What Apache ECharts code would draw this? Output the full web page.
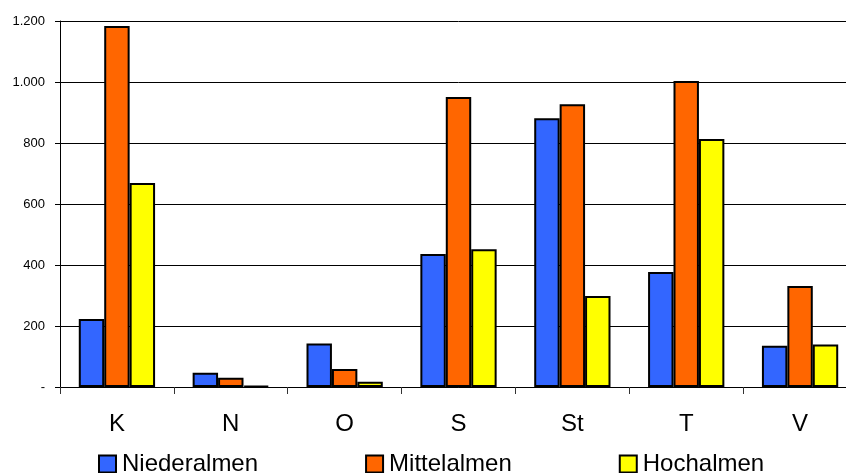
<!DOCTYPE html>
<html><head><meta charset="utf-8">
<script src="https://cdn.jsdelivr.net/npm/echarts@6/dist/echarts.min.js"></script>
<style>html,body{margin:0;padding:0;background:#fff;overflow:hidden;width:846px;height:473px}#c{width:857px;height:473px}</style>
</head><body><div id="c"></div>
<script>
const categories = ['K','N','O','S','St','T','V'];
const niederalmen = [223, 47, 143, 436, 881, 377, 135];
const mittelalmen = [1184, 30, 59, 951, 927, 1003, 331];
const hochalmen = [669, 4, 17, 452, 298, 813, 139];
const seriesNames = ['Niederalmen','Mittelalmen','Hochalmen'];
const colors = ['#3366FF','#FF6600','#FFFF00'];
const yTicks = [0, 200, 400, 600, 800, 1000, 1200];

function fmt(v){
  if (v === 0) return '-';
  return String(v).replace(/\B(?=(\d{3})+(?!\d))/g, '.');
}
const chart = echarts.init(document.getElementById('c'), null, {renderer:'canvas'});
const data = [niederalmen, mittelalmen, hochalmen];
chart.setOption({
  animation:false,
  textStyle:{fontFamily:'Liberation Sans, Arial, sans-serif', color:'#000'},
  grid:{left:60, top:21, right:0, bottom:86, containLabel:false},
  legend:{
    data:seriesNames, left:93, top:447, itemWidth:17, itemHeight:17, itemGap:107,
    icon:'rect',
    textStyle:{fontSize:24, color:'#000', padding:[0,0,0,1], fontFamily:'Liberation Sans, Arial, sans-serif'}
  },
  xAxis:{
    type:'category', data:categories,
    axisLine:{lineStyle:{color:'#000', width:1}},
    axisTick:{show:true, length:7, interval:0, alignWithLabel:false, lineStyle:{color:'#333'}},
    axisLabel:{fontSize:24, color:'#000', margin:25, interval:0}
  },
  yAxis:{
    type:'value', min:yTicks[0], max:yTicks[yTicks.length-1], interval:200,
    axisLine:{show:true, lineStyle:{color:'#000', width:1}},
    axisTick:{show:true, length:5, lineStyle:{color:'#000'}},
    splitLine:{show:true, lineStyle:{color:'#000', width:1}},
    axisLabel:{fontSize:13, color:'#000', margin:15, formatter:fmt}
  },
  series: seriesNames.map((n,i)=>({
    name:n, type:'bar', data:data[i],
    barGap:'0%', barCategoryGap:'33%',
    itemStyle:{color:colors[i], borderColor:'#000', borderWidth:2}
  }))
});
</script></body></html>
